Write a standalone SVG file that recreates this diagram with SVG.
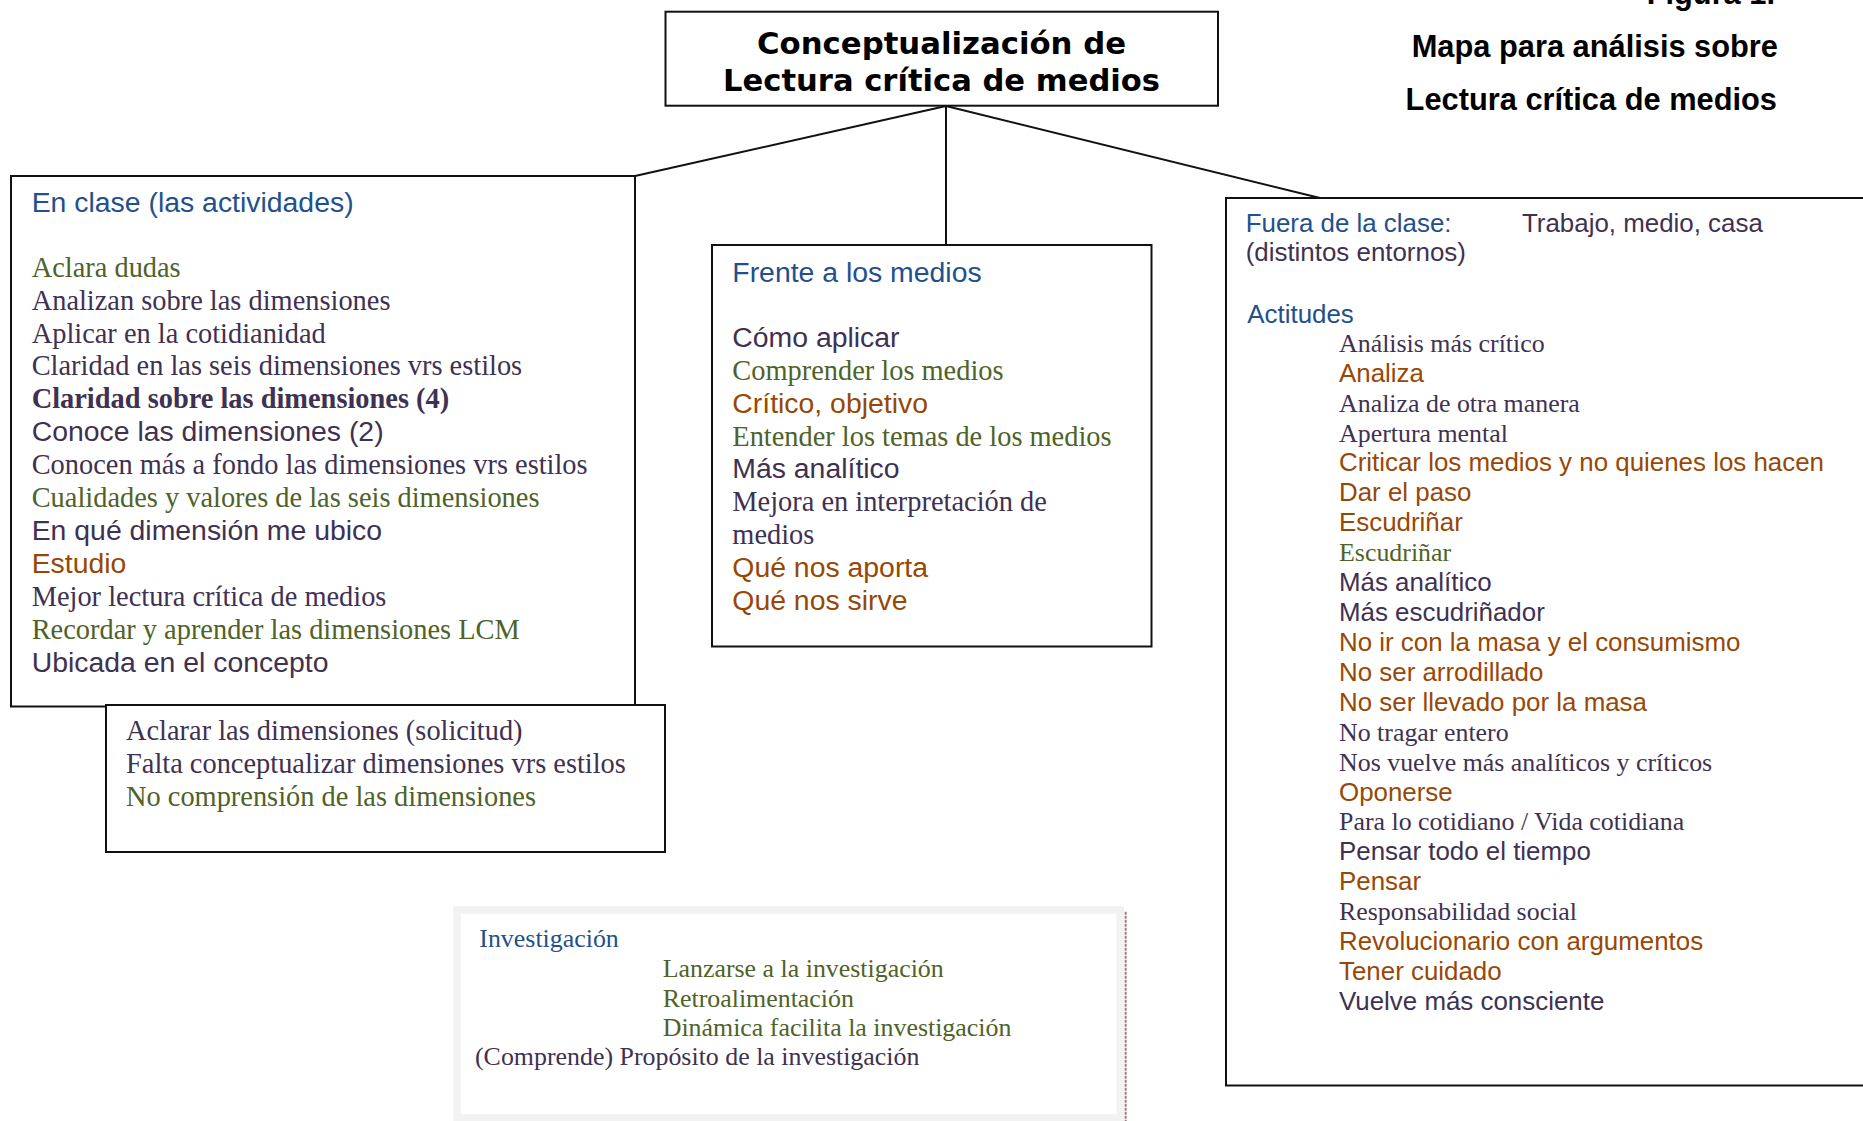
<svg xmlns="http://www.w3.org/2000/svg" width="1863" height="1121" viewBox="0 0 1863 1121">
<style>
.box{fill:#fff;stroke:#111;stroke-width:2}
.con{fill:none;stroke:#111;stroke-width:2}
.a{font-family:"Liberation Sans",Arial,sans-serif}
.t{font-family:"Liberation Serif","Times New Roman",serif}
.L{font-size:28.4px}
.S{font-size:25.9px}
.g{fill:#4f6228}
.p{fill:#3f3151}
.o{fill:#984806}
.b{fill:#23508c}
.hd{font-family:"Liberation Sans",Arial,sans-serif;font-weight:bold;font-size:30.8px;fill:#000}
.ttl{font-family:"DejaVu Sans",Verdana,sans-serif;font-weight:bold;font-size:30.5px;fill:#000}
</style>
<rect width="1863" height="1121" fill="#fff"/>
<g id="connectors">
<path class="con" d="M946,106 L635,176"/>
<path class="con" d="M946,106 L946,245"/>
<path class="con" d="M946,106 L1320,198"/>
</g>
<g id="heading">
<text class="hd" x="1775" y="4" text-anchor="end">Figura 1.</text>
<text class="hd" x="1778" y="56.7" text-anchor="end">Mapa para análisis sobre</text>
<text class="hd" x="1777" y="110" text-anchor="end">Lectura crítica de medios</text>
</g>
<g id="main">
<rect class="box" x="665.5" y="11.7" width="552.5" height="94"/>
<text class="ttl" x="941.5" y="54" text-anchor="middle" textLength="369" lengthAdjust="spacingAndGlyphs">Conceptualización de</text>
<text class="ttl" x="941.5" y="90.7" text-anchor="middle" textLength="437" lengthAdjust="spacingAndGlyphs">Lectura crítica de medios</text>
</g>
<g id="en-clase">
<rect class="box" x="11" y="176" width="624" height="530.5"/>
<text class="a L b" x="31.7" y="211.7">En clase (las actividades)</text>
<text class="t L g" x="31.7" y="276.7">Aclara dudas</text>
<text class="t L p" x="31.7" y="309.6">Analizan sobre las dimensiones</text>
<text class="t L p" x="31.7" y="342.5">Aplicar en la cotidianidad</text>
<text class="t L p" x="31.7" y="375.4">Claridad en las seis dimensiones vrs estilos</text>
<text class="t L p" x="31.7" y="408.3" font-weight="bold">Claridad sobre las dimensiones (4)</text>
<text class="a L p" x="31.7" y="441.2">Conoce las dimensiones (2)</text>
<text class="t L p" x="31.7" y="474.1">Conocen más a fondo las dimensiones vrs estilos</text>
<text class="t L g" x="31.7" y="507">Cualidades y valores de las seis dimensiones</text>
<text class="a L p" x="31.7" y="539.9">En qué dimensión me ubico</text>
<text class="a L o" x="31.7" y="572.8">Estudio</text>
<text class="t L p" x="31.7" y="605.7">Mejor lectura crítica de medios</text>
<text class="t L g" x="31.7" y="638.6">Recordar y aprender las dimensiones LCM</text>
<text class="a L p" x="31.7" y="671.5">Ubicada en el concepto</text>
</g>
<g id="dificultades">
<rect class="box" x="106" y="705" width="559" height="147"/>
<text class="t L p" x="126" y="740">Aclarar las dimensiones (solicitud)</text>
<text class="t L p" x="126" y="773">Falta conceptualizar dimensiones vrs estilos</text>
<text class="t L g" x="126" y="806">No comprensión de las dimensiones</text>
</g>
<g id="frente">
<rect class="box" x="712" y="245" width="439.5" height="401.5"/>
<text class="a L b" x="732.3" y="281.7">Frente a los medios</text>
<text class="a L p" x="732.3" y="347.3">Cómo aplicar</text>
<text class="t L g" x="732.3" y="380">Comprender los medios</text>
<text class="a L o" x="732.3" y="413">Crítico, objetivo</text>
<text class="t L g" x="732.3" y="445.5">Entender los temas de los medios</text>
<text class="a L p" x="732.3" y="478.3">Más analítico</text>
<text class="t L p" x="732.3" y="511">Mejora en interpretación de</text>
<text class="t L p" x="732.3" y="543.7">medios</text>
<text class="a L o" x="732.3" y="577">Qué nos aporta</text>
<text class="a L o" x="732.3" y="610">Qué nos sirve</text>
</g>
<g id="fuera">
<rect class="box" x="1226" y="198" width="700" height="887.5"/>
<text class="a S b" x="1245.7" y="231.5">Fuera de la clase:</text>
<text class="a S p" x="1522" y="231.5">Trabajo, medio, casa</text>
<text class="a S p" x="1245.7" y="261">(distintos entornos)</text>
<text class="a S b" x="1247.3" y="322.7">Actitudes</text>
<text class="t S p" x="1339" y="351.7">Análisis más crítico</text>
<text class="a S o" x="1339" y="381.6">Analiza</text>
<text class="t S p" x="1339" y="411.5">Analiza de otra manera</text>
<text class="t S p" x="1339" y="441.5">Apertura mental</text>
<text class="a S o" x="1339" y="471.4">Criticar los medios y no quienes los hacen</text>
<text class="a S o" x="1339" y="501.3">Dar el paso</text>
<text class="a S o" x="1339" y="531.2">Escudriñar</text>
<text class="t S g" x="1339" y="561.1">Escudriñar</text>
<text class="a S p" x="1339" y="591.1">Más analítico</text>
<text class="a S p" x="1339" y="621">Más escudriñador</text>
<text class="a S o" x="1339" y="650.9">No ir con la masa y el consumismo</text>
<text class="a S o" x="1339" y="680.8">No ser arrodillado</text>
<text class="a S o" x="1339" y="710.7">No ser llevado por la masa</text>
<text class="t S p" x="1339" y="740.7">No tragar entero</text>
<text class="t S p" x="1339" y="770.6">Nos vuelve más analíticos y críticos</text>
<text class="a S o" x="1339" y="800.5">Oponerse</text>
<text class="t S p" x="1339" y="830.4">Para lo cotidiano / Vida cotidiana</text>
<text class="a S p" x="1339" y="860.3">Pensar todo el tiempo</text>
<text class="a S o" x="1339" y="890.2">Pensar</text>
<text class="t S p" x="1339" y="920.2">Responsabilidad social</text>
<text class="a S o" x="1339" y="950.1">Revolucionario con argumentos</text>
<text class="a S o" x="1339" y="980">Tener cuidado</text>
<text class="a S p" x="1339" y="1009.9">Vuelve más consciente</text>
</g>
<g id="investigacion">
<rect x="457" y="910" width="663.3" height="208" fill="#fff" stroke="#f2f2f2" stroke-width="7.5"/>
<line x1="1125.7" y1="911.7" x2="1125.7" y2="1121" stroke="#a07f7f" stroke-width="2" stroke-dasharray="3 1"/>
<text class="t S b" x="479.3" y="947.3">Investigación</text>
<text class="t S g" x="662.7" y="977.3">Lanzarse a la investigación</text>
<text class="t S g" x="662.7" y="1006.5">Retroalimentación</text>
<text class="t S g" x="662.7" y="1036">Dinámica facilita la investigación</text>
<text class="t S p" x="475" y="1065">(Comprende) Propósito de la investigación</text>
</g>
</svg>
